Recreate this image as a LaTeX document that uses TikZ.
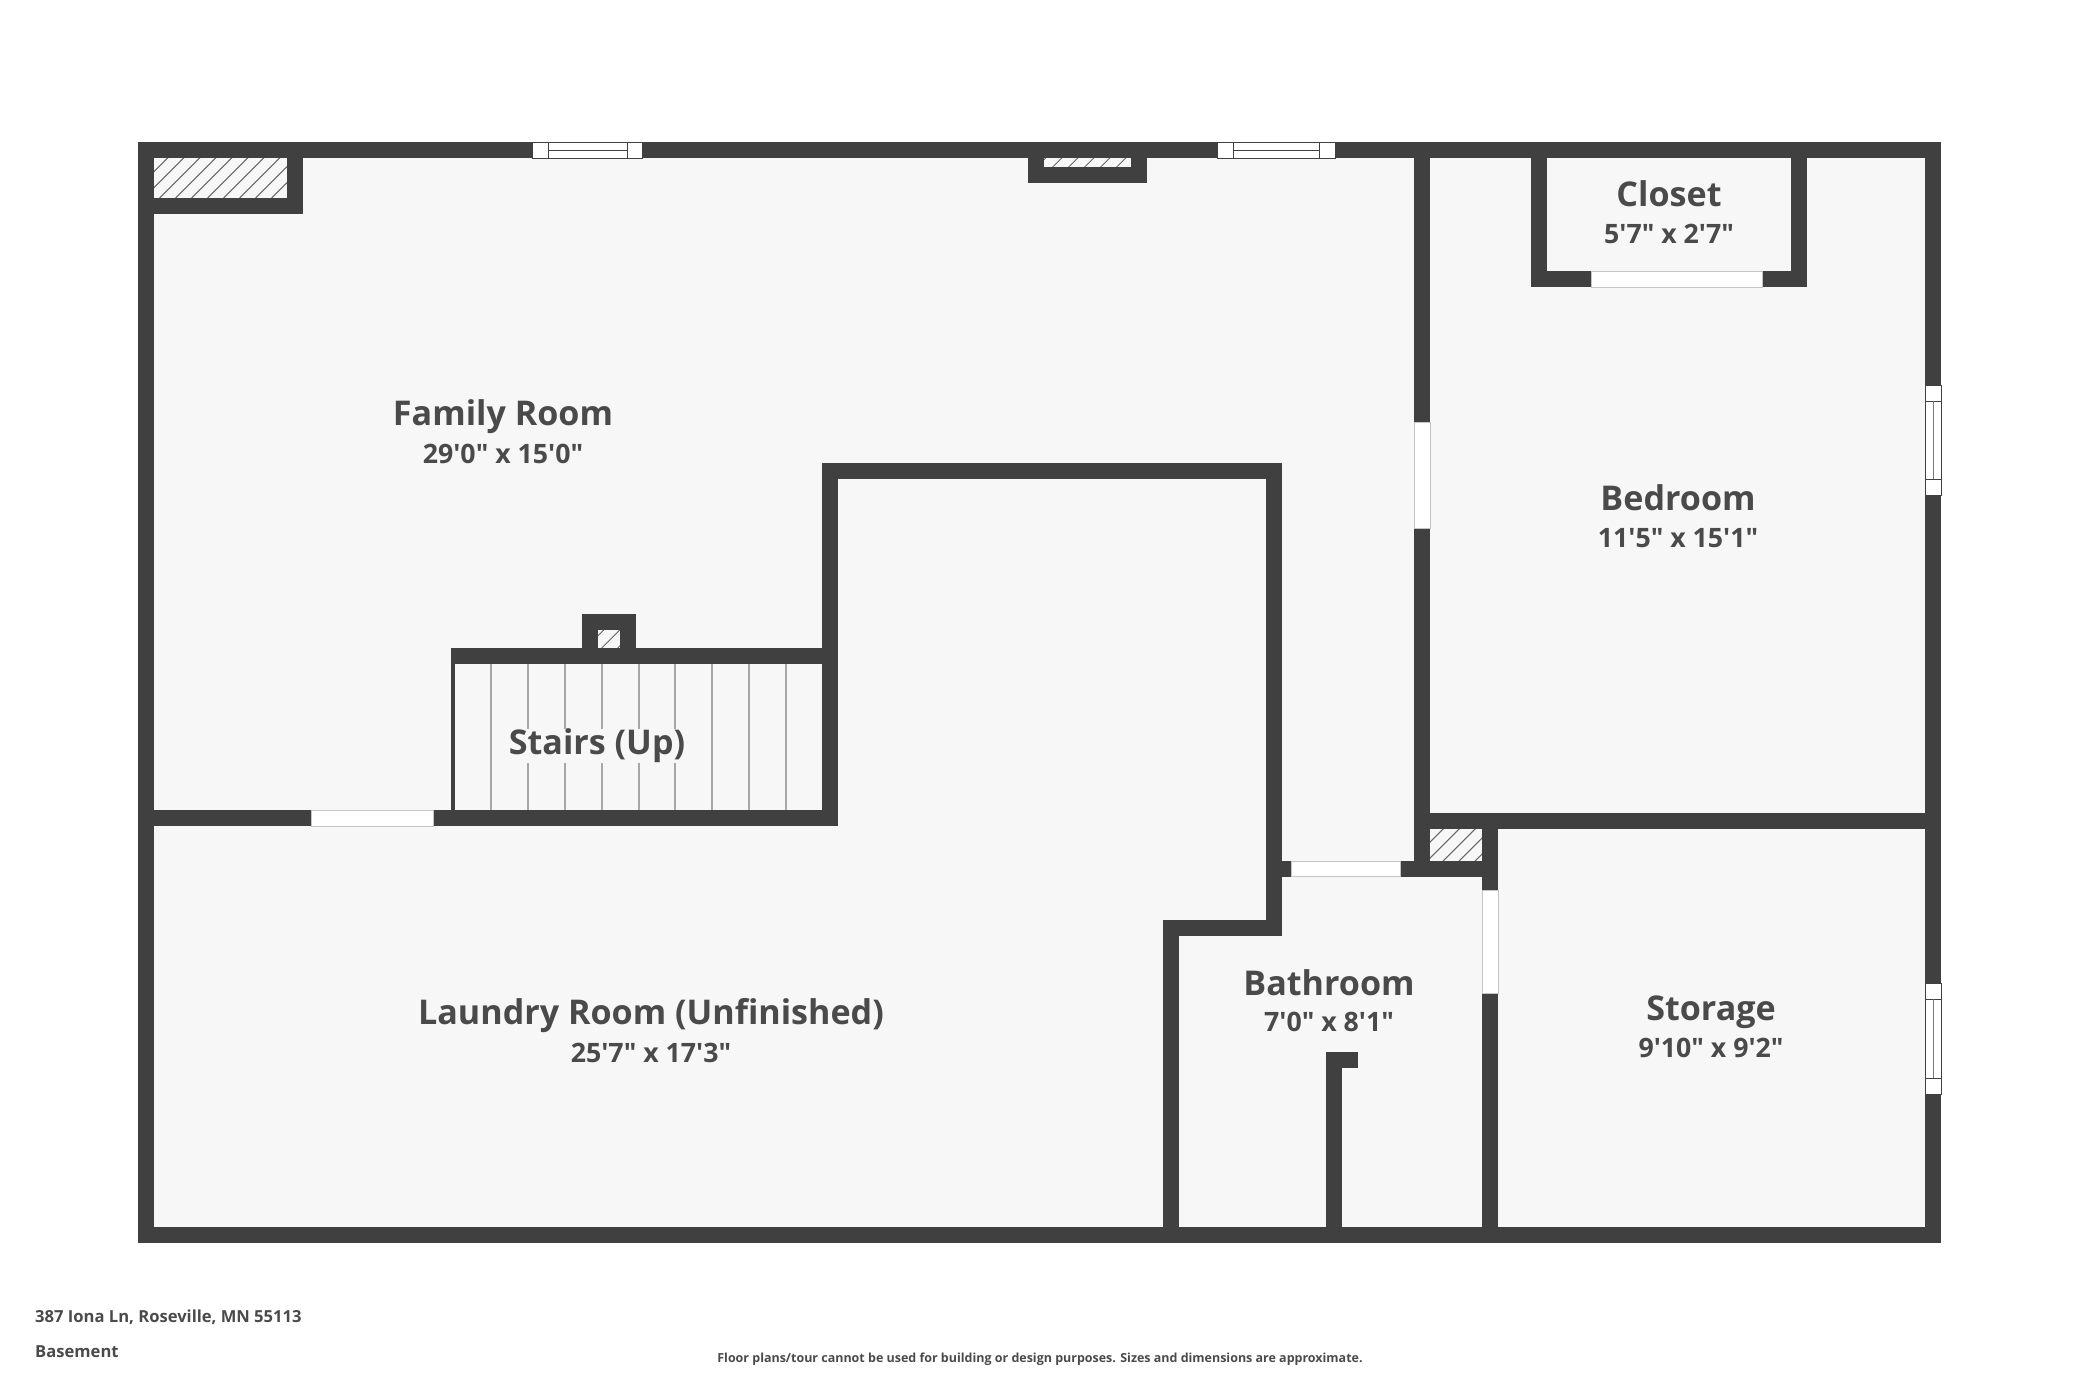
\documentclass[tikz,border=0pt]{standalone}
\usepackage{fontspec}
\newfontfamily\planfont{Open Sans}[Ligatures=NoCommon]
\definecolor{wallgrey}{HTML}{404040}
\definecolor{floorgrey}{HTML}{F7F7F7}
\definecolor{textgrey}{HTML}{4A4A4A}
\definecolor{doorgrey}{HTML}{C4C4C4}
\definecolor{stepgrey}{HTML}{A8A8A8}
\tikzset{
    wall/.style={draw=wallgrey, line width=1.6mm, line join=miter, line cap=butt},
    doorbox/.style={fill=white, draw=doorgrey, line width=0.1mm},
    windowline/.style={draw=wallgrey, line width=0.1mm},
    hatchline/.style={draw=wallgrey!80, line width=0.1mm},
    roomname/.style={text=textgrey, font=\planfont\bfseries\fontsize{9.7}{12}\selectfont},
    roomsize/.style={text=textgrey, font=\planfont\bfseries\fontsize{7.6}{9}\selectfont},
    smalltext/.style={text=textgrey, font=\planfont\bfseries\fontsize{4.72}{6}\selectfont, anchor=west, inner sep=0pt},
}
\newcommand{\hatchbox}[5]{
    \begin{scope}
        \clip (#1,#2) rectangle (#3,#4);
        \foreach \k in {0,16,...,240} {
            \draw[hatchline] ({#5+\k},#4) -- ++(60,-60);
        }
    \end{scope}
}
\begin{document}
\begin{tikzpicture}[x=0.1mm, y=-0.1mm]
    \useasboundingbox (0,0) rectangle (2080,1386);

    \fill[floorgrey] (146,150) rectangle (1933,1235);

    \hatchbox{154}{158}{287}{198}{111.6}
    \hatchbox{1044}{158}{1132}{167}{1036.7}
    \hatchbox{598}{630}{620}{648}{585.7}
    \hatchbox{1430}{829}{1482}{861}{1411}

    \foreach \i in {0,...,8} {
        \draw[stepgrey, line width=0.2mm] ({491.3+36.8*\i},664) -- ({491.3+36.8*\i},810);
    }

    \draw[wall] (146,150) rectangle (1933,1235);
    \draw[wall] (146,206) -- (295,206) -- (295,150);
    \draw[wall] (1036,150) -- (1036,174.5) -- (1139,174.5) -- (1139,150);
    \draw[wall] (138,818) -- (830,818) -- (830,471) -- (1273.5,471) -- (1273.5,928) -- (1170.5,928) -- (1170.5,1235);
    \draw[wall] (451,656) -- (830,656);
    \draw[wall] (590,656) -- (590,622) -- (628,622) -- (628,656);
    \draw[wall, line width=0.4mm] (453,656) -- (453,818);
    \draw[wall] (1422,150) -- (1422,876);
    \draw[wall] (1422,821) -- (1933,821);
    \draw[wall] (1273.5,868.5) -- (1498,868.5);
    \draw[wall] (1490,821) -- (1490,1235);
    \draw[wall] (1539,150) -- (1539,279) -- (1799,279) -- (1799,150);
    \draw[wall] (1357.5,1060) -- (1334,1060) -- (1334,1235);

    \draw[doorbox] (311,810) rectangle (433,826);
    \draw[doorbox] (1414,422) rectangle (1430,528);
    \draw[doorbox] (1291,861) rectangle (1400,876);
    \draw[doorbox] (1482,890) rectangle (1498,993);
    \draw[doorbox] (1591,271) rectangle (1762,287);

    \foreach \a/\b/\c/\d in {532/548/627/642, 1217/1233/1319/1335} {
        \draw[windowline, fill=white] (\a,142) rectangle (\d,158);
        \draw[windowline] (\b,142) -- (\b,158) (\c,142) -- (\c,158);
        \draw[windowline] (\b,150) -- (\c,150);
    }
    \foreach \a/\b/\c/\d in {385/401/479/495, 983/999/1078/1094} {
        \draw[windowline, fill=white] (1925,\a) rectangle (1941,\d);
        \draw[windowline] (1925,\b) -- (1941,\b) (1925,\c) -- (1941,\c);
        \draw[windowline, draw=wallgrey!70] (1933,\b) -- (1933,\c);
    }

    \node[roomname] (familyname) at (503,417) {Family Room};
    \node[roomsize] (familysize) at (503,454) {29'0" x 15'0"};
    \node[roomname, fill=floorgrey, inner sep=0pt] (stairsname) at (597,746) {Stairs (Up)};
    \node[roomname] (laundryname) at (651,1016) {Laundry Room (Unfinished)};
    \node[roomsize] (laundrysize) at (651,1053) {25'7" x 17'3"};
    \node[roomname] (bathname) at (1329,983) {Bathroom};
    \node[roomsize] (bathsize) at (1329,1022) {7'0" x 8'1"};
    \node[roomname] (storagename) at (1711,1012) {Storage};
    \node[roomsize] (storagesize) at (1711,1048) {9'10" x 9'2"};
    \node[roomname] (bedname) at (1678,498) {Bedroom};
    \node[roomsize] (bedsize) at (1678,538) {11'5" x 15'1"};
    \node[roomname] (closetname) at (1669,194) {Closet};
    \node[roomsize] (closetsize) at (1669,234) {5'7" x 2'7"};

    \node[smalltext] (address) at (34.5,1317) {387 Iona Ln, Roseville, MN 55113};
    \node[smalltext] (level) at (34.5,1352) {Basement};
    \node[smalltext, anchor=center, font=\planfont\bfseries\fontsize{3.55}{5}\selectfont] (disclaimer) at (1040,1359) {Floor plans/tour cannot be used for building or design purposes. Sizes and dimensions are approximate.};
\end{tikzpicture}
\end{document}
